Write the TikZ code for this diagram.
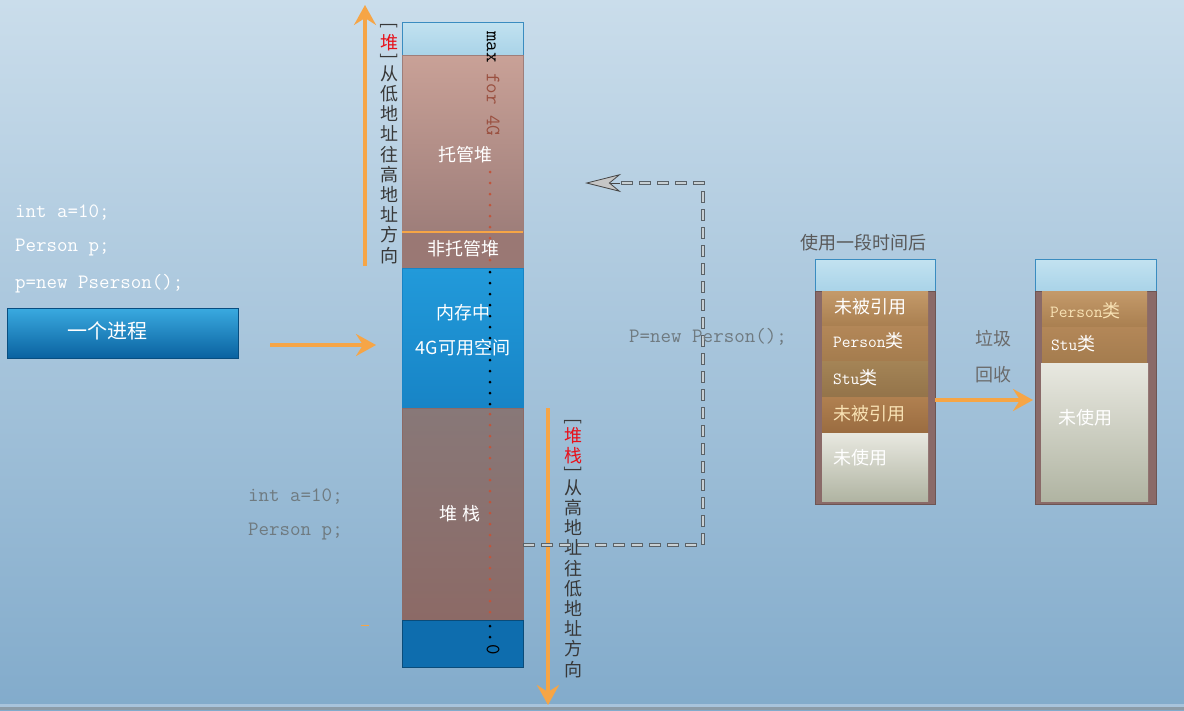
\documentclass[tikz,border=0pt]{standalone}
\usepackage{fontspec}
\setmainfont{Noto Sans CJK SC}
\usetikzlibrary{arrows.meta}
\lineskiplimit=-100pt
\definecolor{bgtop}{HTML}{CADDEB}
\definecolor{bgbot}{HTML}{82ABCB}
\definecolor{capblue}{HTML}{A9D3E8}
\definecolor{captop}{HTML}{C2E2F0}
\definecolor{capline}{HTML}{3A8CC0}
\definecolor{heaptop}{HTML}{C9A197}
\definecolor{heapbot}{HTML}{9E7E7A}
\definecolor{unman}{HTML}{9A7874}
\definecolor{memtop}{HTML}{229ADA}
\definecolor{membot}{HTML}{1784C6}
\definecolor{stacktop}{HTML}{887878}
\definecolor{stackbot}{HTML}{8C6A66}
\definecolor{botblue}{HTML}{0E6DAE}
\definecolor{orangeA}{HTML}{F6A546}
\definecolor{codegray}{HTML}{6F7A80}
\definecolor{txtdark}{HTML}{383838}
\definecolor{redA}{HTML}{E8101A}
\definecolor{dotred}{HTML}{C0553C}
\definecolor{boxbrown}{HTML}{8A6A68}
\definecolor{paleyel}{HTML}{F8E2B4}
\definecolor{btntop}{HTML}{3AAAE0}
\definecolor{btnbot}{HTML}{0A62A0}
\definecolor{pAt}{HTML}{C49A6A}\definecolor{pAb}{HTML}{A97F50}
\definecolor{pBt}{HTML}{B38758}\definecolor{pBb}{HTML}{A47C4E}
\definecolor{pCt}{HTML}{A48456}\definecolor{pCb}{HTML}{94744A}
\definecolor{pDt}{HTML}{B08050}\definecolor{pDb}{HTML}{9A6C40}
\definecolor{unt}{HTML}{E8E8E0}\definecolor{unb}{HTML}{B0B4A2}
\definecolor{fortxt}{HTML}{9A5040}
\definecolor{dashout}{HTML}{5A6268}
\definecolor{dashin}{HTML}{C8D0D4}
\definecolor{edgegray}{HTML}{8C9CA8}
\definecolor{edgelight}{HTML}{A8C4DC}
\newcommand{\vbrL}{\rotatebox{-90}{[}}
\newcommand{\vbrR}{\rotatebox{-90}{]}}
\newcommand{\codefnt}{\ttfamily\addfontfeature{FakeBold=0.7}}
\tikzset{
  seg/.style={rectangle, inner sep=0pt, minimum width=121pt, draw=#1, line width=0.6pt},
  panel/.style={rectangle, inner sep=0pt, anchor=north west},
  wtxt/.style={text=white, font=\fontsize{18}{20}\selectfont, inner sep=0pt},
  code/.style={font=\codefnt\fontsize{20.4}{22}\selectfont, inner sep=0pt, anchor=west},
  vtxt/.style={align=center, inner sep=0pt, text=txtdark, anchor=base, font=\fontsize{18}{20.2}\selectfont},
  orarrow/.style={draw=orangeA, line width=3.5pt, -{Stealth[length=20pt,width=22pt,inset=7pt]}},
  dashouter/.style={draw=dashout, line width=4.4pt, dash pattern=on 12pt off 6pt},
  dashinner/.style={draw=dashin, line width=2.6pt, dash pattern=on 10.2pt off 7.8pt, dash phase=17.1pt},
  gtxt/.style={text=#1, font=\fontsize{18}{20}\selectfont, inner sep=0pt},
  dots/.style={draw=#1, line width=3pt, line cap=round, dash pattern=on 0pt off 11pt}
}
\begin{document}
\begin{tikzpicture}[x=1pt,y=-1pt]
% background
\fill[top color=bgtop, bottom color=bgbot] (0,0) rectangle (1184,710);
\fill[edgelight] (0,704) rectangle (1184,707);
\fill[edgegray] (0,707) rectangle (1184,710);
\useasboundingbox (0,0) rectangle (1184,710);

% memory column
\node[seg=capline, top color=captop, bottom color=capblue, minimum height=33pt] (cap) at (462.5,38.5) {};
\node[seg=heapbot, top color=heaptop, bottom color=heapbot, minimum height=177pt] (heap) at (462.5,143.5) {};
\node[seg=unman, fill=unman, minimum height=36pt] (unman) at (462.5,250) {};
\node[seg=membot, top color=memtop, bottom color=membot, minimum height=140pt] (mem) at (462.5,338) {};
\node[seg=stackbot, top color=stacktop, bottom color=stackbot, minimum height=212pt] (stack) at (462.5,514) {};
\node[seg=botblue!70!black, fill=botblue, minimum height=47pt] (bot) at (462.5,643.5) {};
\draw[orangeA, line width=2pt] (heap.south west) -- (heap.south east);

% dotted scale line
\draw[dots=dotred] (490,172) -- (490,268);
\draw[dots=black] (490,272) -- (490,408);
\draw[dots=dotred] (490,414) -- (490,620);
\draw[dots=black] (490,626) -- (490,638);
\node[inner sep=0pt, rotate=-90, anchor=west, font=\codefnt\fontsize{20.4}{22}\selectfont] (maxlbl) at (493,31) {max {\color{fortxt}for 4G}};
\node[inner sep=0pt, rotate=-90, font=\codefnt\fontsize{20.4}{22}\selectfont] (zero) at (493,650) {0};

% column labels
\node[wtxt] (t1) at (465,155) {托管堆};
\node[wtxt] (t2) at (463,249) {非托管堆};
\node[wtxt] (t3) at (463,313) {内存中};
\node[wtxt] (t4) at (463,348) {4G可用空间};
\node[wtxt] (t5) at (460,514) {堆\hspace{6pt}栈};

% growth arrows
\coordinate (upS) at (365,266);
\coordinate (upE) at (365,5);
\draw[orarrow] (upS) -- (upE);
\node[vtxt] (heapdir) at (389,262) {\vbrL\\[6.8pt]{\color{redA}堆}\\[-16.2pt]\vbrR\\[6.8pt]从\\低\\地\\址\\往\\高\\地\\址\\方\\向};
\coordinate (dnS) at (548,408);
\coordinate (dnE) at (548,705);
\draw[orarrow] (dnS) -- (dnE);
\node[vtxt] (stackdir) at (573,676) {\vbrL\\[3.8pt]{\color{redA}堆}\\{\color{redA}栈}\\[-16.2pt]\vbrR\\[7.8pt]从\\高\\地\\址\\往\\低\\地\\址\\方\\向};

% left code and process
\node[code, text=white] (c1) at (15,213) {int a=10;};
\node[code, text=white] (c2) at (15,248) {Person p;};
\node[code, text=white] (c3) at (15,284) {p=new Pserson();};
\node[rectangle, draw=btnbot!80!black, line width=0.6pt, top color=btntop, bottom color=btnbot, minimum width=231pt, minimum height=50pt, inner sep=0pt] (proc) at (122.5,333) {};
\node[wtxt, font=\fontsize{20}{22}\selectfont] (proct) at (107,331) {一个进程};
\coordinate (pa1) at (270,345);
\coordinate (pa2) at (376,345);
\draw[orarrow] (pa1) -- (pa2);

% stack code
\node[code, text=codegray] (s1) at (248,497) {int a=10;};
\node[code, text=codegray] (s2) at (248,532) {Person p;};
\draw[orangeA, line width=1pt] (361,625) -- (369,625);

% dashed connector
\coordinate (dc1) at (703,545);
\coordinate (dc2) at (703,183);
\coordinate (dcE) at (620,183);
\coordinate (dtip) at (585,183);
\draw[dashouter] (stack.east |- dc1) -- (dc1) -- (dc2) -- (dcE);
\draw[dashinner] (stack.east |- dc1) -- (dc1) -- (dc2) -- (dcE);
\draw[draw=gray!55!black, line width=0.8pt, -{Stealth[length=36pt,width=18pt,inset=11pt,fill=gray!45]}] (dcE) -- (dtip);
\node[code, text=codegray] (pnew) at (629,337) {P=new Person();};

% right: after use
\node[gtxt=black!65, anchor=west] (after) at (800,243) {使用一段时间后};
\node[rectangle, draw=capline, line width=0.6pt, top color=captop, bottom color=capblue, minimum width=120pt, minimum height=32pt, inner sep=0pt, anchor=north west] (b1cap) at (815,259) {};
\node[rectangle, draw=boxbrown!80!black, fill=boxbrown, minimum width=120pt, minimum height=213pt, inner sep=0pt, anchor=north west] (b1) at (815,291) {};
\node[panel, top color=pAt, bottom color=pAb, minimum width=106pt, minimum height=35pt] (p11) at (822,291) {};
\node[panel, top color=pBt, bottom color=pBb, minimum width=106pt, minimum height=35pt] (p12) at (822,326) {};
\node[panel, top color=pCt, bottom color=pCb, minimum width=106pt, minimum height=35pt] (p13) at (822,361) {};
\node[panel, top color=pDt, bottom color=pDb, minimum width=106pt, minimum height=36pt] (p14) at (822,397) {};
\node[panel, top color=unt, bottom color=unb, minimum width=106pt, minimum height=68pt] (p15) at (822,433) {};
\node[wtxt, anchor=west] (l11) at (834,307) {未被引用};
\node[wtxt, anchor=west] (l12) at (833,341) {{\codefnt\fontsize{17}{20}\selectfont Person}类};
\node[wtxt, anchor=west] (l13) at (833,378) {{\codefnt\fontsize{17}{20}\selectfont Stu}类};
\node[wtxt, anchor=west, text=paleyel] (l14) at (833,414) {未被引用};
\node[wtxt, anchor=west] (l15) at (833,458) {未使用};

% garbage collection
\node[gtxt=black!58] (gc1) at (993,339) {垃圾};
\node[gtxt=black!58] (gc2) at (993,375) {回收};
\draw[orarrow] (b1.east |- 0,400) -- (1033,400);

% right: after gc
\node[rectangle, draw=capline, line width=0.6pt, top color=captop, bottom color=capblue, minimum width=121pt, minimum height=32pt, inner sep=0pt, anchor=north west] (b2cap) at (1035,259) {};
\node[rectangle, draw=boxbrown!80!black, fill=boxbrown, minimum width=121pt, minimum height=213pt, inner sep=0pt, anchor=north west] (b2) at (1035,291) {};
\node[panel, top color=pAt, bottom color=pAb, minimum width=105pt, minimum height=36pt] (p21) at (1042,291) {};
\node[panel, top color=pBt, bottom color=pBb, minimum width=105pt, minimum height=36pt] (p22) at (1042,327) {};
\node[panel, top color=unt, bottom color=unb, minimum width=107pt, minimum height=138pt] (p23) at (1041,363) {};
\node[wtxt, anchor=west, text=paleyel] (l21) at (1050,311) {{\codefnt\fontsize{17}{20}\selectfont Person}类};
\node[wtxt, anchor=west] (l22) at (1051,344) {{\codefnt\fontsize{17}{20}\selectfont Stu}类};
\node[wtxt, anchor=west] (l23) at (1058,418) {未使用};
\end{tikzpicture}
\end{document}
